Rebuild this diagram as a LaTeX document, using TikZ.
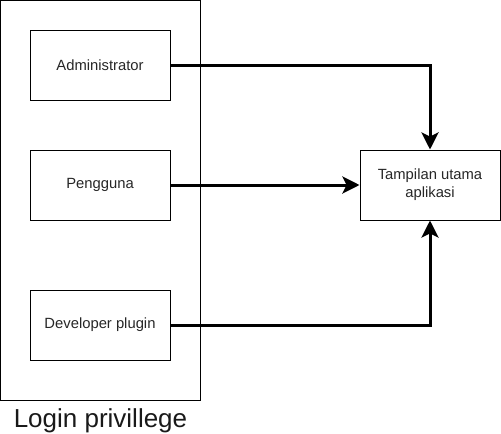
\documentclass[tikz,border=0pt]{standalone}
\usepackage{fontspec}
\setmainfont{Liberation Sans}
\usetikzlibrary{positioning,arrows.meta}
\tikzstyle{role}=[rectangle, draw=black, minimum width=140pt, minimum height=70pt, line width=1pt, inner sep=2pt, align=center, text=black!85, font=\fontsize{14.8}{18}\selectfont]
\tikzstyle{frame}=[rectangle, draw=black, minimum width=200pt, minimum height=400pt, line width=1pt]
\tikzstyle{l1}=[line width=3pt, -{Stealth[length=17pt, width=17pt, inset=4pt]}]

\begin{document}
\begin{tikzpicture}[x=1pt, y=-1pt, node distance=1cm, on grid]
    \useasboundingbox (0,0) rectangle (501,434);

    \node[frame] (login) at (100.5,200.5) {};
    \node (loginlbl) [anchor=base, text=black!90, font=\fontsize{26}{30}\selectfont] at ([yshift=-26pt]login.south) {Login privillege};

    \node[role] (admin) at (100,65) {Administrator};
    \node[role] (peng) [below = 120pt of admin] {Pengguna};
    \node[role] (dev) [below = 140pt of peng] {Developer plugin};
    \node[role] (app) [right = 330pt of peng] {Tampilan utama\\aplikasi};

    \draw[l1] (admin.east) -| (app.north);
    \draw[l1] (peng.east) -- (app.west);
    \draw[l1] (dev.east) -| (app.south);

\end{tikzpicture}
\end{document}
